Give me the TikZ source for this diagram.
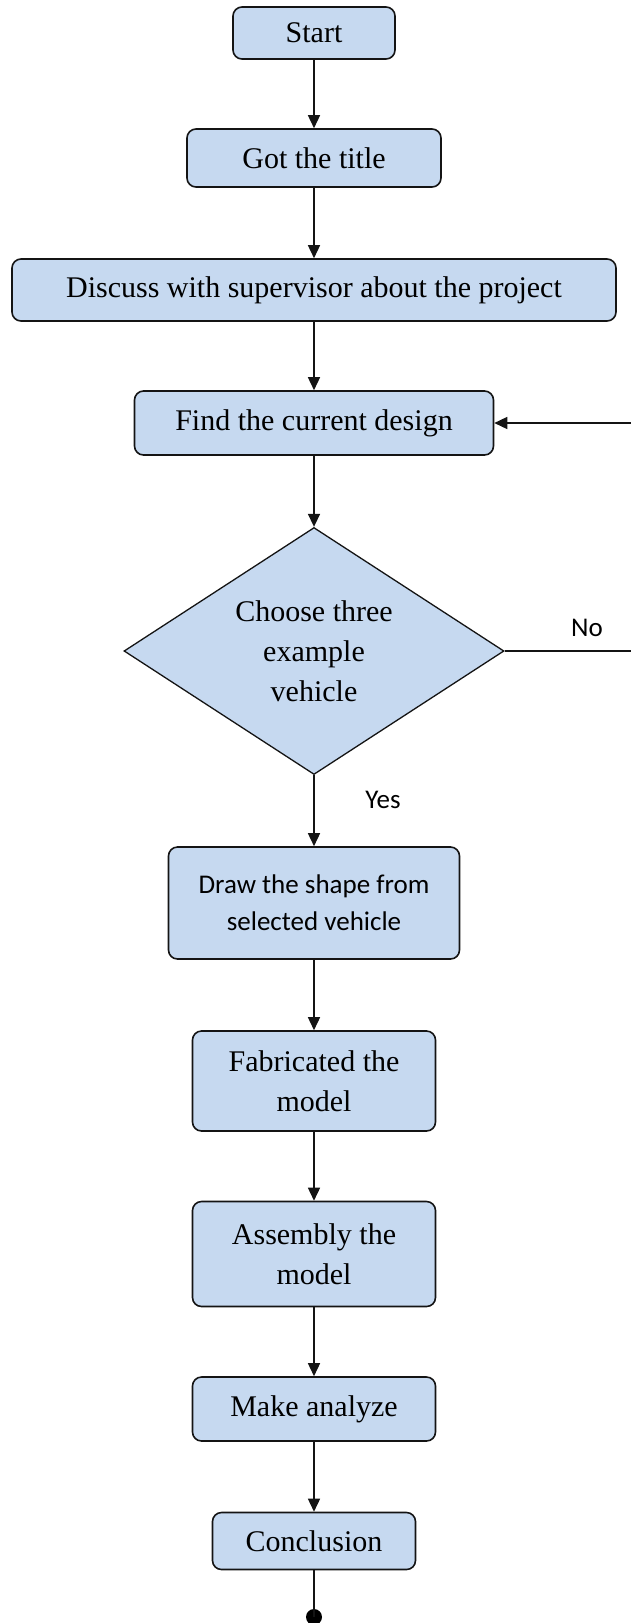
\documentclass[tikz,border=0pt]{standalone}
\usepackage{fontspec}
\setmainfont{Liberation Serif}
\newfontfamily\sansf{Carlito}
\usetikzlibrary{shapes.geometric,arrows.meta}
\definecolor{boxfill}{RGB}{198,217,240}
\definecolor{edgecol}{RGB}{20,20,20}
\begin{document}
\begin{tikzpicture}[x=1pt,y=-1pt,
  box/.style={draw=edgecol,fill=boxfill,line width=1.6pt,rounded corners=9pt,inner sep=0pt,align=center,font=\fontsize{30}{39.5}\selectfont},
  decision/.style={diamond,aspect=1.534,draw=edgecol,fill=boxfill,line width=1.3pt,inner sep=0pt,align=center,font=\fontsize{30}{40}\selectfont},
  flow/.style={line width=1.5pt,draw=edgecol,-{Triangle[length=13pt,width=12pt]}},
  plain/.style={line width=1.5pt,draw=edgecol},
  lbl/.style={font=\sansf\fontsize{27}{37}\selectfont,inner sep=0pt,align=center}]
\useasboundingbox (0,0) rectangle (631,1623);
\node[box,minimum width=162pt,minimum height=52pt] (start) at (314,33) {Start};
\node[box,minimum width=254pt,minimum height=58pt] (title) at (314,158) {Got the title};
\node[box,minimum width=604pt,minimum height=62pt] (discuss) at (314,290) {Discuss with supervisor about the project};
\node[box,minimum width=359pt,minimum height=64pt] (find) at (314,423) {Find the current design};
\node[decision,minimum width=380pt,minimum height=247pt] (choose) at (314,651) {Choose three\\example\\vehicle};
\node[box,minimum width=291pt,minimum height=112pt,font=\sansf\fontsize{27}{37}\selectfont] (draw) at (314,903) {Draw the shape from\\selected vehicle};
\node[box,minimum width=243pt,minimum height=100pt] (fab) at (314,1081) {Fabricated the\\model};
\node[box,minimum width=243pt,minimum height=105pt] (assy) at (314,1254) {Assembly the\\model};
\node[box,minimum width=243pt,minimum height=64pt] (make) at (314,1409) {Make analyze};
\node[box,minimum width=203pt,minimum height=57pt] (concl) at (314,1541) {Conclusion};
\node[circle,fill=black,inner sep=0pt,minimum size=16pt] (finish) at (314,1617) {};
\node[lbl] (nolbl) at (587,628) {No};
\node[lbl] (yeslbl) at (383,800) {Yes};
\draw[flow] (start) -- (title);
\draw[flow] (title) -- (discuss);
\draw[flow] (discuss) -- (find);
\draw[flow] (find) -- (choose);
\draw[flow] (choose) -- (draw);
\draw[flow] (draw) -- (fab);
\draw[flow] (fab) -- (assy);
\draw[flow] (assy) -- (make);
\draw[flow] (make) -- (concl);
\draw[plain] (concl) -- (finish.center);
\draw[flow] (choose.east) -- ++(150,0) |- (find.east);
\end{tikzpicture}
\end{document}
